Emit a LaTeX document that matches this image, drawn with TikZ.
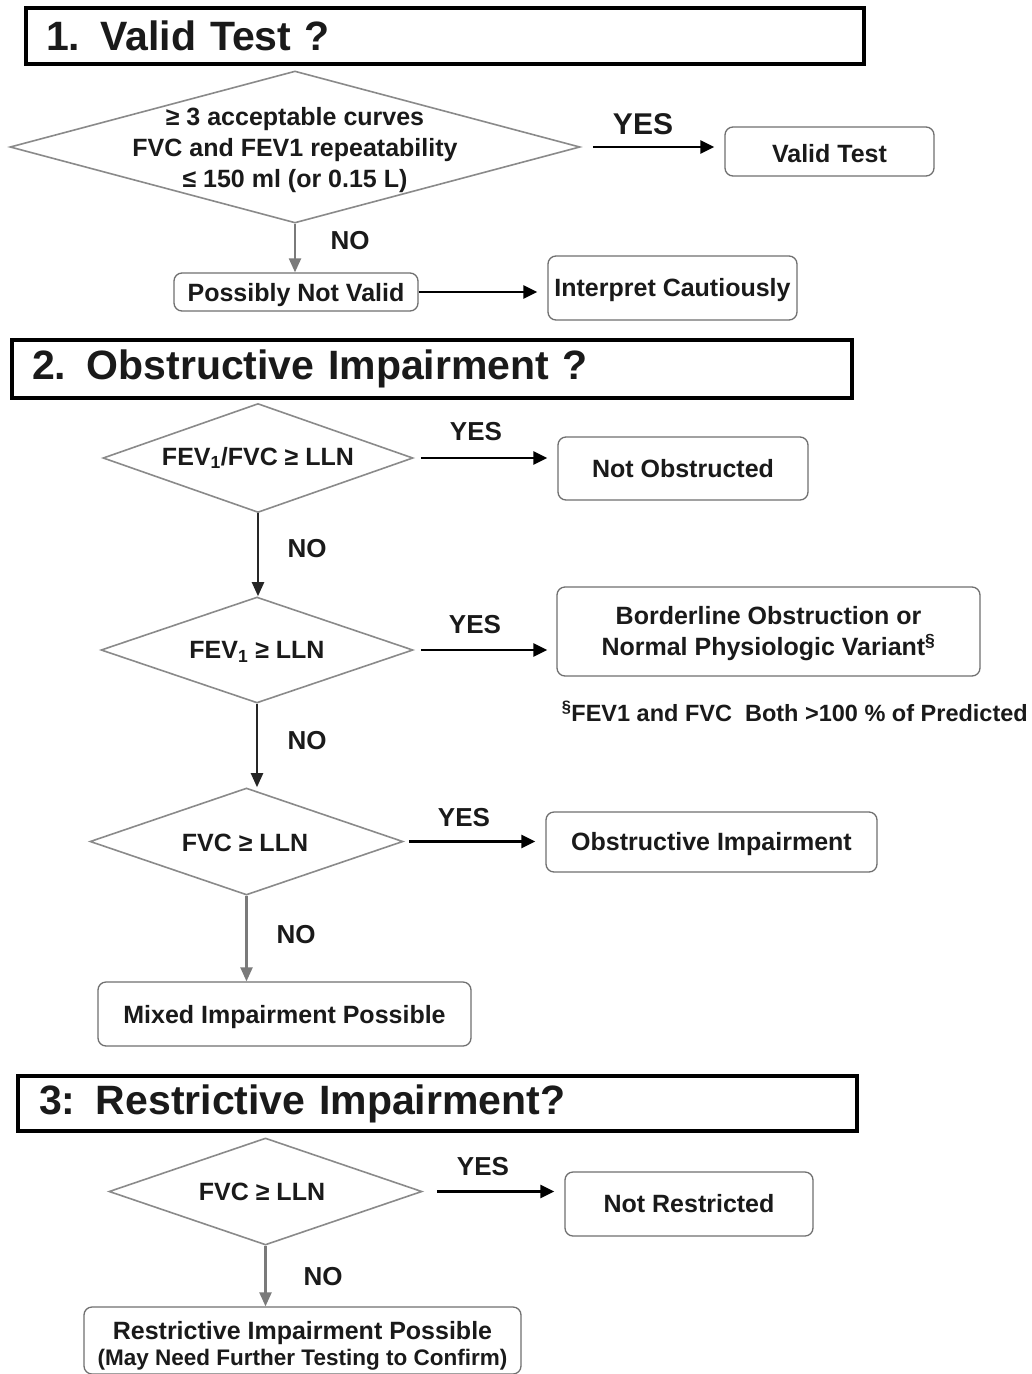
\documentclass[tikz,border=0pt]{standalone}
\usepackage{fontspec}
\setmainfont{Liberation Sans}
\usetikzlibrary{shapes.geometric,arrows.meta}
\definecolor{diagray}{HTML}{8A8A8A}
\definecolor{boxgray}{HTML}{707070}
\definecolor{arrgray}{HTML}{7A7A7A}
\definecolor{ink}{HTML}{1A1A1A}
\newcommand{\bodyfnt}{\fontsize{25}{31}\selectfont\bfseries}
\newcommand{\lblfnt}{\fontsize{26}{30}\selectfont\bfseries}
\newcommand{\lowertxt}[2]{\raisebox{-#1}[\height][\depth]{#2}}
\tikzset{
  hdr/.style={draw=black, line width=4pt, rectangle, inner xsep=20pt, inner ysep=0pt,
    font=\fontsize{41}{44}\selectfont\bfseries, align=left, text=ink},
  dia/.style={draw=diagray, line width=1.6pt, diamond, inner sep=0pt},
  dtext/.style={font=\bodyfnt, align=center, text=ink, inner sep=0pt},
  stepbox/.style={draw=boxgray, line width=1.3pt, rounded corners=8pt, font=\bodyfnt,
    align=center, inner sep=0pt, text=ink},
  yesarrow/.style={line width=2.6pt, draw=black, -{Triangle[length=14pt,width=13pt]}},
  noblack/.style={line width=2.2pt, draw=black!85, -{Triangle[length=14pt,width=12pt]}},
  nogray/.style={line width=2.2pt, draw=arrgray, -{Triangle[length=14pt,width=12pt]}},
  lbl/.style={font=\lblfnt, text=ink, inner sep=0pt}
}
\begin{document}
\begin{tikzpicture}[x=1pt,y=-1pt]
\useasboundingbox (0,0) rectangle (1032,1374);
\fill[white] (0,0) rectangle (1032,1374);

% ---------- Section 1 ----------
\node[hdr, minimum width=838pt, minimum height=56pt, text width=798pt] (h1) at (445,36) {1. Valid Test ?};

\node[dia, minimum width=570pt, minimum height=152pt] (d1) at (295,147) {};
\node[dtext] (d1t) at (295,150) {≥ 3 acceptable curves\\FVC and FEV1 repeatability\\≤ 150 ml (or 0.15 L)};

\node[stepbox, minimum width=209pt, minimum height=49pt] (vt) at (829.5,151.5) {\lowertxt{2pt}{Valid Test}};
\node[stepbox, minimum width=244pt, minimum height=38pt] (pnv) at (296,292) {\lowertxt{3pt}{Possibly Not Valid}};
\node[stepbox, minimum width=249pt, minimum height=64pt] (ic) at (672.5,288) {\lowertxt{2pt}{Interpret Cautiously}};

\draw[yesarrow, shorten <=12pt, shorten >=10pt] (d1.east) -- (d1.east -| vt.west);
\node[lbl, font=\fontsize{30}{34}\selectfont\bfseries] (y1) at (643,124) {YES};
\draw[nogray] (d1.south) -- (d1.south |- pnv.north);
\node[lbl] (n1) at (350,241) {NO};
\draw[yesarrow, shorten >=10pt] (pnv.east) -- (pnv.east -| ic.west);

% ---------- Section 2 ----------
\node[hdr, minimum width=840pt, minimum height=58pt, text width=800pt] (h2) at (432,369) {2. Obstructive Impairment ?};

\node[dia, minimum width=310pt, minimum height=109pt] (d2) at (258,458) {};
\node[dtext] (d2t) at (258,458) {FEV\textsubscript{1}/FVC ≥ LLN};
\node[stepbox, minimum width=250pt, minimum height=63pt] (nob) at (683,468.5) {Not Obstructed};
\draw[yesarrow, shorten <=7pt, shorten >=10pt] (d2.east) -- (d2.east -| nob.west);
\node[lbl] (y2) at (476,432) {YES};

\node[dia, minimum width=312pt, minimum height=106pt] (d3) at (257,650) {};
\node[dtext] (d3t) at (257,652) {FEV\textsubscript{1} ≥ LLN};
\draw[noblack] (d2.south) -- (d2.south |- d3.north);
\node[lbl] (n2) at (307,549) {NO};

\node[stepbox, minimum width=423pt, minimum height=89pt] (bo) at (768.5,631.5) {\lowertxt{2pt}{\begin{tabular}{@{}c@{}}Borderline Obstruction or\\Normal Physiologic Variant\textsuperscript{\S}\end{tabular}}};
\draw[yesarrow, shorten <=7pt, shorten >=9pt] (d3.east) -- (d3.east -| bo.west);
\node[lbl] (y3) at (475,625) {YES};
\node[font=\fontsize{23.5}{26}\selectfont\bfseries, text=ink, inner sep=0pt, anchor=east] (fn) at (1028,711) {\textsuperscript{\S}FEV1 and FVC\ \ Both >100 \% of Predicted};

\node[dia, minimum width=313pt, minimum height=107pt] (d4) at (246.5,841.5) {};
\node[dtext] (d4t) at (245,843) {FVC ≥ LLN};
\draw[noblack] (d3.south) -- (d3.south |- d4.north);
\node[lbl] (n3) at (307,741) {NO};

\node[stepbox, minimum width=331pt, minimum height=60pt] (oi) at (711.5,842) {\lowertxt{2pt}{Obstructive Impairment}};
\draw[yesarrow, shorten <=5pt, shorten >=10pt] (d4.east) -- (d4.east -| oi.west);
\node[lbl] (y4) at (464,818) {YES};

\node[stepbox, minimum width=373pt, minimum height=64pt] (mip) at (284.5,1014) {\lowertxt{3pt}{Mixed Impairment Possible}};
\draw[nogray] (d4.south) -- (d4.south |- mip.north);
\node[lbl] (n4) at (296,935) {NO};

% ---------- Section 3 ----------
\node[hdr, minimum width=839pt, minimum height=55pt, text width=797pt] (h3) at (437.5,1103.5) {3: Restrictive Impairment?};

\node[dia, minimum width=313pt, minimum height=107pt] (d5) at (265.5,1191.5) {};
\node[dtext] (d5t) at (262,1192) {FVC ≥ LLN};
\node[stepbox, minimum width=248pt, minimum height=64pt] (nr) at (689,1204) {Not Restricted};
\draw[yesarrow, shorten <=14pt, shorten >=10pt] (d5.east) -- (d5.east -| nr.west);
\node[lbl] (y5) at (483,1167) {YES};

\node[stepbox, minimum width=437pt, minimum height=67pt] (rip) at (302.5,1340.5) {\lowertxt{6pt}{\begin{tabular}{@{}c@{}}Restrictive Impairment Possible\\[-5pt]{\fontsize{22.5}{26}\selectfont (May Need Further Testing to Confirm)}\end{tabular}}};
\draw[nogray] (d5.south) -- (d5.south |- rip.north);
\node[lbl] (n5) at (323,1277) {NO};
\end{tikzpicture}
\end{document}
